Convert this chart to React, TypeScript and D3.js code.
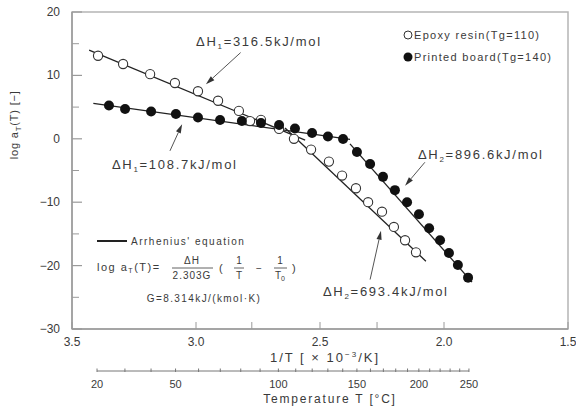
import React from 'react';
import * as d3 from 'd3';

// 1/T [x10^-3 /K] , log aT
const epoxyX = [3.395, 3.294, 3.185, 3.085, 2.992, 2.911, 2.827, 2.782, 2.738, 2.665, 2.605, 2.536, 2.464, 2.411, 2.355, 2.306, 2.25, 2.202, 2.157, 2.113];
const epoxyY = [13.1, 11.8, 10.2, 8.8, 7.5, 6.0, 4.4, 2.8, 3.0, 1.55, 0.0, -1.7, -3.6, -5.8, -7.8, -10.0, -11.5, -13.9, -16.0, -17.9];
const boardX = [3.351, 3.286, 3.181, 3.081, 2.992, 2.903, 2.815, 2.738, 2.665, 2.601, 2.532, 2.468, 2.407, 2.351, 2.298, 2.246, 2.198, 2.149, 2.101, 2.06, 2.016, 1.98, 1.944, 1.903];
const boardY = [5.25, 4.7, 4.3, 3.9, 3.36, 2.97, 2.8, 2.5, 2.18, 1.62, 0.91, 0.36, -0.03, -2.08, -3.97, -6.0, -8.1, -10.0, -11.9, -14.1, -16.0, -18.0, -19.9, -21.9];

// fitted Arrhenius lines, endpoints [x1, y1, x2, y2]
const fitLines = [
  [3.431, 14.0, 2.56, -0.2],
  [2.641, 1.7, 2.073, -19.3],
  [3.414, 5.6, 2.379, -0.1],
  [2.379, -0.8, 1.887, -22.6],
];

const xTicks = [3.5, 3.0, 2.5, 2.0, 1.5];
const xMinor = [2.775, 2.27];
const yTicks = [20, 10, 0, -10, -20, -30];
const yMinor = [15, 5, -5, -15, -25];
const tempLabels = [20, 50, 100, 150, 200, 250];
const tempTicks = d3.range(20, 251, 10);

const legendNames = ['Epoxy resin(Tg=110)', 'Printed board(Tg=140)'];

// annotation: subscript, value, text x/y, arrow from x/y, to x/y
const notes = [
  { sub: '1', val: '=316.5kJ/mol', tx: 3.0, ty: 14.6, ax: 2.82, ay: 13.6, bx: 2.96, by: 8.6 },
  { sub: '1', val: '=108.7kJ/mol', tx: 3.339, ty: -4.76, ax: 3.105, ay: -1.9, bx: 3.056, by: 2.3 },
  { sub: '2', val: '=896.6kJ/mol', tx: 2.105, ty: -3.2, ax: 2.077, ay: -3.7, bx: 2.157, by: -7.4 },
  { sub: '2', val: '=693.4kJ/mol', tx: 2.488, ty: -24.8, ax: 2.298, ay: -22.2, bx: 2.254, by: -14.5 },
];

const W = 576, H = 407;
const L = 72, R = 568, T = 12, B = 329;
const FONT = 'Liberation Sans, Arial, sans-serif';
const TXT = '#3a3a3a';
const AX = '#9a9a9a';

const App = () => {
  const x = d3.scaleLinear().domain([3.5, 1.5]).range([L, R]);
  const y = d3.scaleLinear().domain([-30, 20]).range([B, T]);
  const tx = (t: number) => x(1000 / (t + 273.15)) + 3;
  const tempY = 371;

  const arrow = (n: typeof notes[0], i: number) => {
    const x1 = x(n.ax), y1 = y(n.ay), x2 = x(n.bx), y2 = y(n.by);
    const ang = Math.atan2(y2 - y1, x2 - x1);
    const len = 9, wid = 2.6;
    const bxp = x2 - len * Math.cos(ang), byp = y2 - len * Math.sin(ang);
    const p = [
      [x2, y2],
      [bxp + wid * Math.sin(ang), byp - wid * Math.cos(ang)],
      [bxp - wid * Math.sin(ang), byp + wid * Math.cos(ang)],
    ];
    return (
      <g key={'a' + i}>
        <line x1={x1} y1={y1} x2={bxp} y2={byp} stroke="#555" strokeWidth={1} />
        <path d={d3.line()(p as [number, number][]) + 'Z'} fill="#333" />
      </g>
    );
  };

  return (
    <svg width={W} height={H} style={{ position: 'absolute', left: 0, top: 0, background: '#fff' }}
      fontFamily={FONT}>
      {/* frame */}
      <rect x={L} y={T} width={R - L} height={B - T} fill="none" stroke="#b5b5b5" strokeWidth={1.5} />
      <line x1={L} y1={T} x2={L} y2={B} stroke={AX} strokeWidth={1.5} />
      <line x1={L} y1={B} x2={R} y2={B} stroke={AX} strokeWidth={1.5} />

      {/* y ticks */}
      {yTicks.map((d) => (
        <g key={'y' + d}>
          <line x1={L} x2={L + 10} y1={y(d)} y2={y(d)} stroke={AX} strokeWidth={1.2} />
          <text x={L - 12} y={y(d) + 4} textAnchor="end" fontSize={12} fill={TXT}>{d < 0 ? '\u2212' + -d : d}</text>
        </g>
      ))}
      {yMinor.map((d) => (
        <line key={'ym' + d} x1={L} x2={L + 7} y1={y(d)} y2={y(d)} stroke={AX} strokeWidth={1} />
      ))}
      <text transform={`translate(18,${y(0) - 14}) rotate(-90)`} textAnchor="middle" fontSize={11} fill={TXT} letterSpacing={0.8}>
        log a<tspan fontSize={8} dy={3}>T</tspan><tspan dy={-3}>(T) [−]</tspan>
      </text>

      {/* x ticks */}
      {xTicks.map((d) => (
        <g key={'x' + d}>
          <line x1={x(d)} x2={x(d)} y1={B} y2={B - 7} stroke={AX} strokeWidth={1} />
          <text x={x(d)} y={B + 17} textAnchor="middle" fontSize={12} fill={TXT}>{d.toFixed(1)}</text>
        </g>
      ))}
      {xMinor.map((d) => (
        <line key={'xm' + d} x1={x(d)} x2={x(d)} y1={B} y2={B - 7} stroke={AX} strokeWidth={1} />
      ))}
      <text x={325} y={362} textAnchor="middle" fontSize={13} fill={TXT} letterSpacing={2}>
        1/T [ × 10<tspan fontSize={8} dy={-5}>−3</tspan><tspan dy={5}>/K]</tspan>
      </text>

      {/* temperature axis */}
      <line x1={tx(20)} x2={tx(250)} y1={tempY} y2={tempY} stroke="#777" strokeWidth={1} />
      {tempTicks.map((d) => (
        <line key={'t' + d} x1={tx(d)} x2={tx(d)} y1={tempY - 2.5} y2={tempY + 1} stroke="#777" strokeWidth={1} />
      ))}
      {tempLabels.map((d) => (
        <text key={'tl' + d} x={tx(d)} y={tempY + 17} textAnchor="middle" fontSize={11} fill={TXT}>{d}</text>
      ))}
      <text x={330} y={403} textAnchor="middle" fontSize={12} fill={TXT} letterSpacing={1.8}>Temperature  T [°C]</text>

      {/* fitted lines */}
      {fitLines.map((l, i) => (
        <line key={'f' + i} x1={x(l[0])} y1={y(l[1])} x2={x(l[2])} y2={y(l[3])} stroke="#222" strokeWidth={1.3} />
      ))}

      {/* data */}
      {epoxyX.map((d, i) => (
        <circle key={'e' + i} cx={x(d)} cy={y(epoxyY[i])} r={4.6} fill="#fff" stroke="#333" strokeWidth={1.1} />
      ))}
      {boardX.map((d, i) => (
        <circle key={'b' + i} cx={x(d)} cy={y(boardY[i])} r={5} fill="#111" />
      ))}

      {/* annotations */}
      {notes.map((n, i) => (
        <g key={'n' + i}>
          {arrow(n, i)}
          <text x={x(n.tx)} y={y(n.ty)} fontSize={13} fill={TXT} letterSpacing={1.7}>
            ΔH<tspan fontSize={8} dy={3}>{n.sub}</tspan><tspan dy={-3}>{n.val}</tspan>
          </text>
        </g>
      ))}

      {/* legend */}
      <circle cx={408} cy={35} r={4} fill="#fff" stroke="#333" strokeWidth={1} />
      <text x={414} y={39} fontSize={11} fill={TXT} letterSpacing={1.3}>{legendNames[0]}</text>
      <circle cx={408} cy={57} r={4.5} fill="#111" />
      <text x={414} y={61} fontSize={11} fill={TXT} letterSpacing={1.3}>{legendNames[1]}</text>

      {/* equation */}
      <line x1={97} x2={127} y1={241} y2={241} stroke="#222" strokeWidth={2} />
      <text x={131} y={245} fontSize={10} fill={TXT} letterSpacing={1.5}>Arrhenius' equation</text>
      <text x={97} y={271} fontSize={11} fill={TXT} letterSpacing={1.5}>
        log a<tspan fontSize={7} dy={2}>T</tspan><tspan dy={-2}>(T)=</tspan>
      </text>
      <text x={192} y={264} textAnchor="middle" fontSize={10} fill={TXT} letterSpacing={1}>ΔH</text>
      <line x1={172} x2={213} y1={268} y2={268} stroke={TXT} strokeWidth={0.8} />
      <text x={192} y={279} textAnchor="middle" fontSize={10} fill={TXT} letterSpacing={1}>2.303G</text>
      <text x={219} y={272} fontSize={11} fill={TXT}>(</text>
      <text x={239} y={264} textAnchor="middle" fontSize={10} fill={TXT}>1</text>
      <line x1={234} x2={244} y1={268} y2={268} stroke={TXT} strokeWidth={0.8} />
      <text x={239} y={279} textAnchor="middle" fontSize={10} fill={TXT}>T</text>
      <text x={259} y={272} textAnchor="middle" fontSize={10} fill={TXT}>−</text>
      <text x={280} y={264} textAnchor="middle" fontSize={10} fill={TXT}>1</text>
      <line x1={274} x2={287} y1={268} y2={268} stroke={TXT} strokeWidth={0.8} />
      <text x={280} y={279} textAnchor="middle" fontSize={10} fill={TXT}>
        T<tspan fontSize={7} dy={2}>0</tspan>
      </text>
      <text x={292} y={272} fontSize={11} fill={TXT}>)</text>
      <text x={204} y={302} textAnchor="middle" fontSize={10} fill={TXT} letterSpacing={1.4}>G=8.314kJ/(kmol·K)</text>
    </svg>
  );
};

export default App;
